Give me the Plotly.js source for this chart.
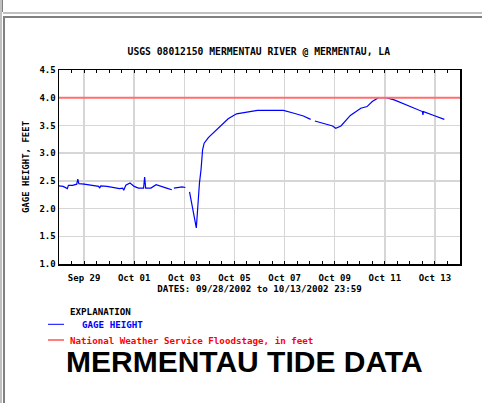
<!DOCTYPE html>
<html><head><meta charset="utf-8">
<script src="https://cdn.plot.ly/plotly-3.0.1.min.js"></script>
<style>
html,body{margin:0;padding:0;background:#fff;overflow:hidden;}
#chart{position:absolute;left:0;top:0;width:482px;height:403px;}
.b{position:absolute;z-index:5;}
</style></head>
<body>
<div id="chart"></div>
<div class="b" style="left:0;top:0;width:2px;height:403px;background:#c0c0c0"></div>
<div class="b" style="left:2px;top:0;width:1px;height:12px;background:#808080"></div>
<div class="b" style="left:3px;top:12px;width:479px;height:2px;background:#c0c0c0"></div>
<div class="b" style="left:3px;top:16px;width:479px;height:2px;background:#808080"></div>
<div class="b" style="left:3px;top:16px;width:2px;height:387px;background:#808080"></div>
<script>
// ---- data ----
const times = [
"2002-09-28 00:00","2002-09-28 04:00","2002-09-28 08:00","2002-09-28 09:00","2002-09-28 13:00",
"2002-09-28 17:00","2002-09-28 18:00","2002-09-28 19:00","2002-09-29 00:00","2002-09-29 08:00",
"2002-09-29 14:00","2002-09-29 15:00","2002-09-29 16:00","2002-09-29 22:00","2002-09-30 04:00",
"2002-09-30 10:00","2002-09-30 13:00","2002-09-30 14:00","2002-09-30 16:00","2002-09-30 20:00",
"2002-10-01 00:00","2002-10-01 04:00","2002-10-01 09:00","2002-10-01 10:00","2002-10-01 11:00",
"2002-10-01 16:00","2002-10-01 21:00","2002-10-02 03:00","2002-10-02 07:00","2002-10-02 12:00",
"2002-10-02 13:00","2002-10-02 14:00","2002-10-02 22:00","2002-10-03 01:00","2002-10-03 02:00",
"2002-10-03 05:00","2002-10-03 07:00","2002-10-03 10:00","2002-10-03 11:30","2002-10-03 14:30",
"2002-10-03 16:00","2002-10-03 17:30","2002-10-03 19:00","2002-10-03 23:00","2002-10-04 04:00",
"2002-10-04 10:00","2002-10-04 18:00","2002-10-05 02:00","2002-10-05 12:00","2002-10-05 22:00",
"2002-10-06 10:00","2002-10-06 23:00","2002-10-07 09:00","2002-10-07 18:00","2002-10-08 01:00",
"2002-10-08 02:00","2002-10-08 05:00","2002-10-08 13:00","2002-10-08 22:00","2002-10-09 01:00",
"2002-10-09 06:00","2002-10-09 15:00","2002-10-10 01:00","2002-10-10 07:00","2002-10-10 12:00",
"2002-10-10 18:00","2002-10-11 01:00","2002-10-11 09:00","2002-10-11 22:00","2002-10-12 07:00",
"2002-10-12 12:00","2002-10-12 12:30","2002-10-12 13:00","2002-10-12 23:00","2002-10-13 09:00"
];
const gageHeight = [
2.41,2.40,2.36,2.42,2.42,
2.44,2.53,2.45,2.44,2.42,
2.40,2.37,2.41,2.40,2.38,
2.36,2.37,2.33,2.42,2.46,
2.40,2.37,2.37,2.57,2.37,
2.37,2.43,2.40,2.37,2.34,
null,2.37,2.39,2.38,null,
2.30,2.09,1.85,1.65,2.46,
2.70,3.06,3.18,3.28,3.37,
3.49,3.62,3.71,3.74,3.77,
3.77,3.77,3.72,3.67,3.61,
null,3.58,3.54,3.49,3.45,
3.49,3.68,3.81,3.84,3.93,
4.00,4.00,3.96,3.86,3.80,
3.75,3.69,3.75,3.68,3.61
];
const floodStage = 4.0;
const xRange = ["2002-09-28 00:00","2002-10-14 00:00"];
const yRange = [1.0, 4.5];
const titleText = "USGS 08012150 MERMENTAU RIVER @ MERMENTAU, LA";
const xTitle = "DATES: 09/28/2002 to 10/13/2002 23:59";
const yTitle = "GAGE HEIGHT, FEET";
const legendHead = "EXPLANATION";
const legendGage = "GAGE HEIGHT";
const legendFlood = "National Weather Service Floodstage, in feet";
const bigText = "MERMENTAU TIDE DATA";

const mono = "DejaVu Sans Mono, monospace";
const PX = p => (p - 59.3) / 400.7;
const PY = p => (264 - p) / 194;

const traces = [{
  x: times, y: gageHeight, type: "scatter", mode: "lines",
  line: {color: "#0000ff", width: 1.2}, connectgaps: false, hoverinfo: "skip"
}];

const layout = {
  width: 482, height: 403,
  margin: {l: 59.3, r: 22, t: 70, b: 139},
  paper_bgcolor: "#fff", plot_bgcolor: "#fff",
  showlegend: false,
  font: {family: mono, size: 9, color: "#000"},
  title: {text: "<b>" + titleText + "</b>", font: {family: mono, size: 9.7, color: "#000"},
          x: 258.8/482, xanchor: "center", xref: "container", y: 1 - 51.7/403, yanchor: "middle", yref: "container"},
  xaxis: {
    type: "date", range: xRange, tick0: "2002-09-29", dtick: 2*86400000,
    tickformat: "%b %d", ticks: "inside", ticklen: 3, tickcolor: "#000",
    ticklabelstandoff: 5,
    showgrid: true, gridcolor: "#d6d6d6", gridwidth: 1.5,
    showline: true, linecolor: "#000", linewidth: 1.5, mirror: "ticks",
    minor: {dtick: 12*3600000, ticks: "inside", ticklen: 3, tickcolor: "#000", showgrid: false},
    tickfont: {family: mono, size: 9, color: "#000", weight: "bold"},
    title: {text: "<b>" + xTitle + "</b>", font: {family: mono, size: 9.2, color: "#000"}, standoff: 3},
    zeroline: false
  },
  yaxis: {
    range: yRange, dtick: 0.5, tick0: 1, tickformat: ".1f", ticks: "",
    showgrid: true, gridcolor: "#d6d6d6", gridwidth: 1.5,
    showline: true, linecolor: "#000", linewidth: 1.5, mirror: true,
    tickfont: {family: mono, size: 9, color: "#000", weight: "bold"},
    title: {text: "<b>" + yTitle + "</b>", font: {family: mono, size: 9, color: "#000"}, standoff: 8},
    zeroline: false
  },
  shapes: [
    {type: "line", xref: "paper", yref: "y", x0: 0, x1: 1, y0: floodStage, y1: floodStage,
     line: {color: "#ff6f6f", width: 2}},
    {type: "line", xref: "paper", yref: "paper", x0: PX(48.3), x1: PX(64.3), y0: PY(324.3), y1: PY(324.3),
     line: {color: "#0000ff", width: 1}},
    {type: "line", xref: "paper", yref: "paper", x0: PX(48.3), x1: PX(64.3), y0: PY(340), y1: PY(340),
     line: {color: "#ff0000", width: 1}}
  ],
  annotations: [
    {text: "<b>" + legendHead + "</b>", xref: "paper", yref: "paper", x: PX(68.5), y: PY(311.7),
     xanchor: "left", yanchor: "middle", showarrow: false, font: {family: mono, size: 9.2, color: "#000"}},
    {text: "<b>" + legendGage + "</b>", xref: "paper", yref: "paper", x: PX(80.2), y: PY(324.3),
     xanchor: "left", yanchor: "middle", showarrow: false, font: {family: mono, size: 9.2, color: "#0000ff"}},
    {text: "<b>" + legendFlood + "</b>", xref: "paper", yref: "paper", x: PX(68.5), y: PY(340),
     xanchor: "left", yanchor: "middle", showarrow: false, font: {family: mono, size: 9.2, color: "#ff0000"}},
    {text: "<b>" + bigText + "</b>", xref: "paper", yref: "paper", x: PX(245), y: PY(361),
     xanchor: "center", yanchor: "middle", showarrow: false, font: {family: "Liberation Sans, Arial, sans-serif", size: 30, color: "#000"}}
  ]
};

Plotly.newPlot("chart", traces, layout, {displayModeBar: false, staticPlot: true});
</script>
</body></html>
